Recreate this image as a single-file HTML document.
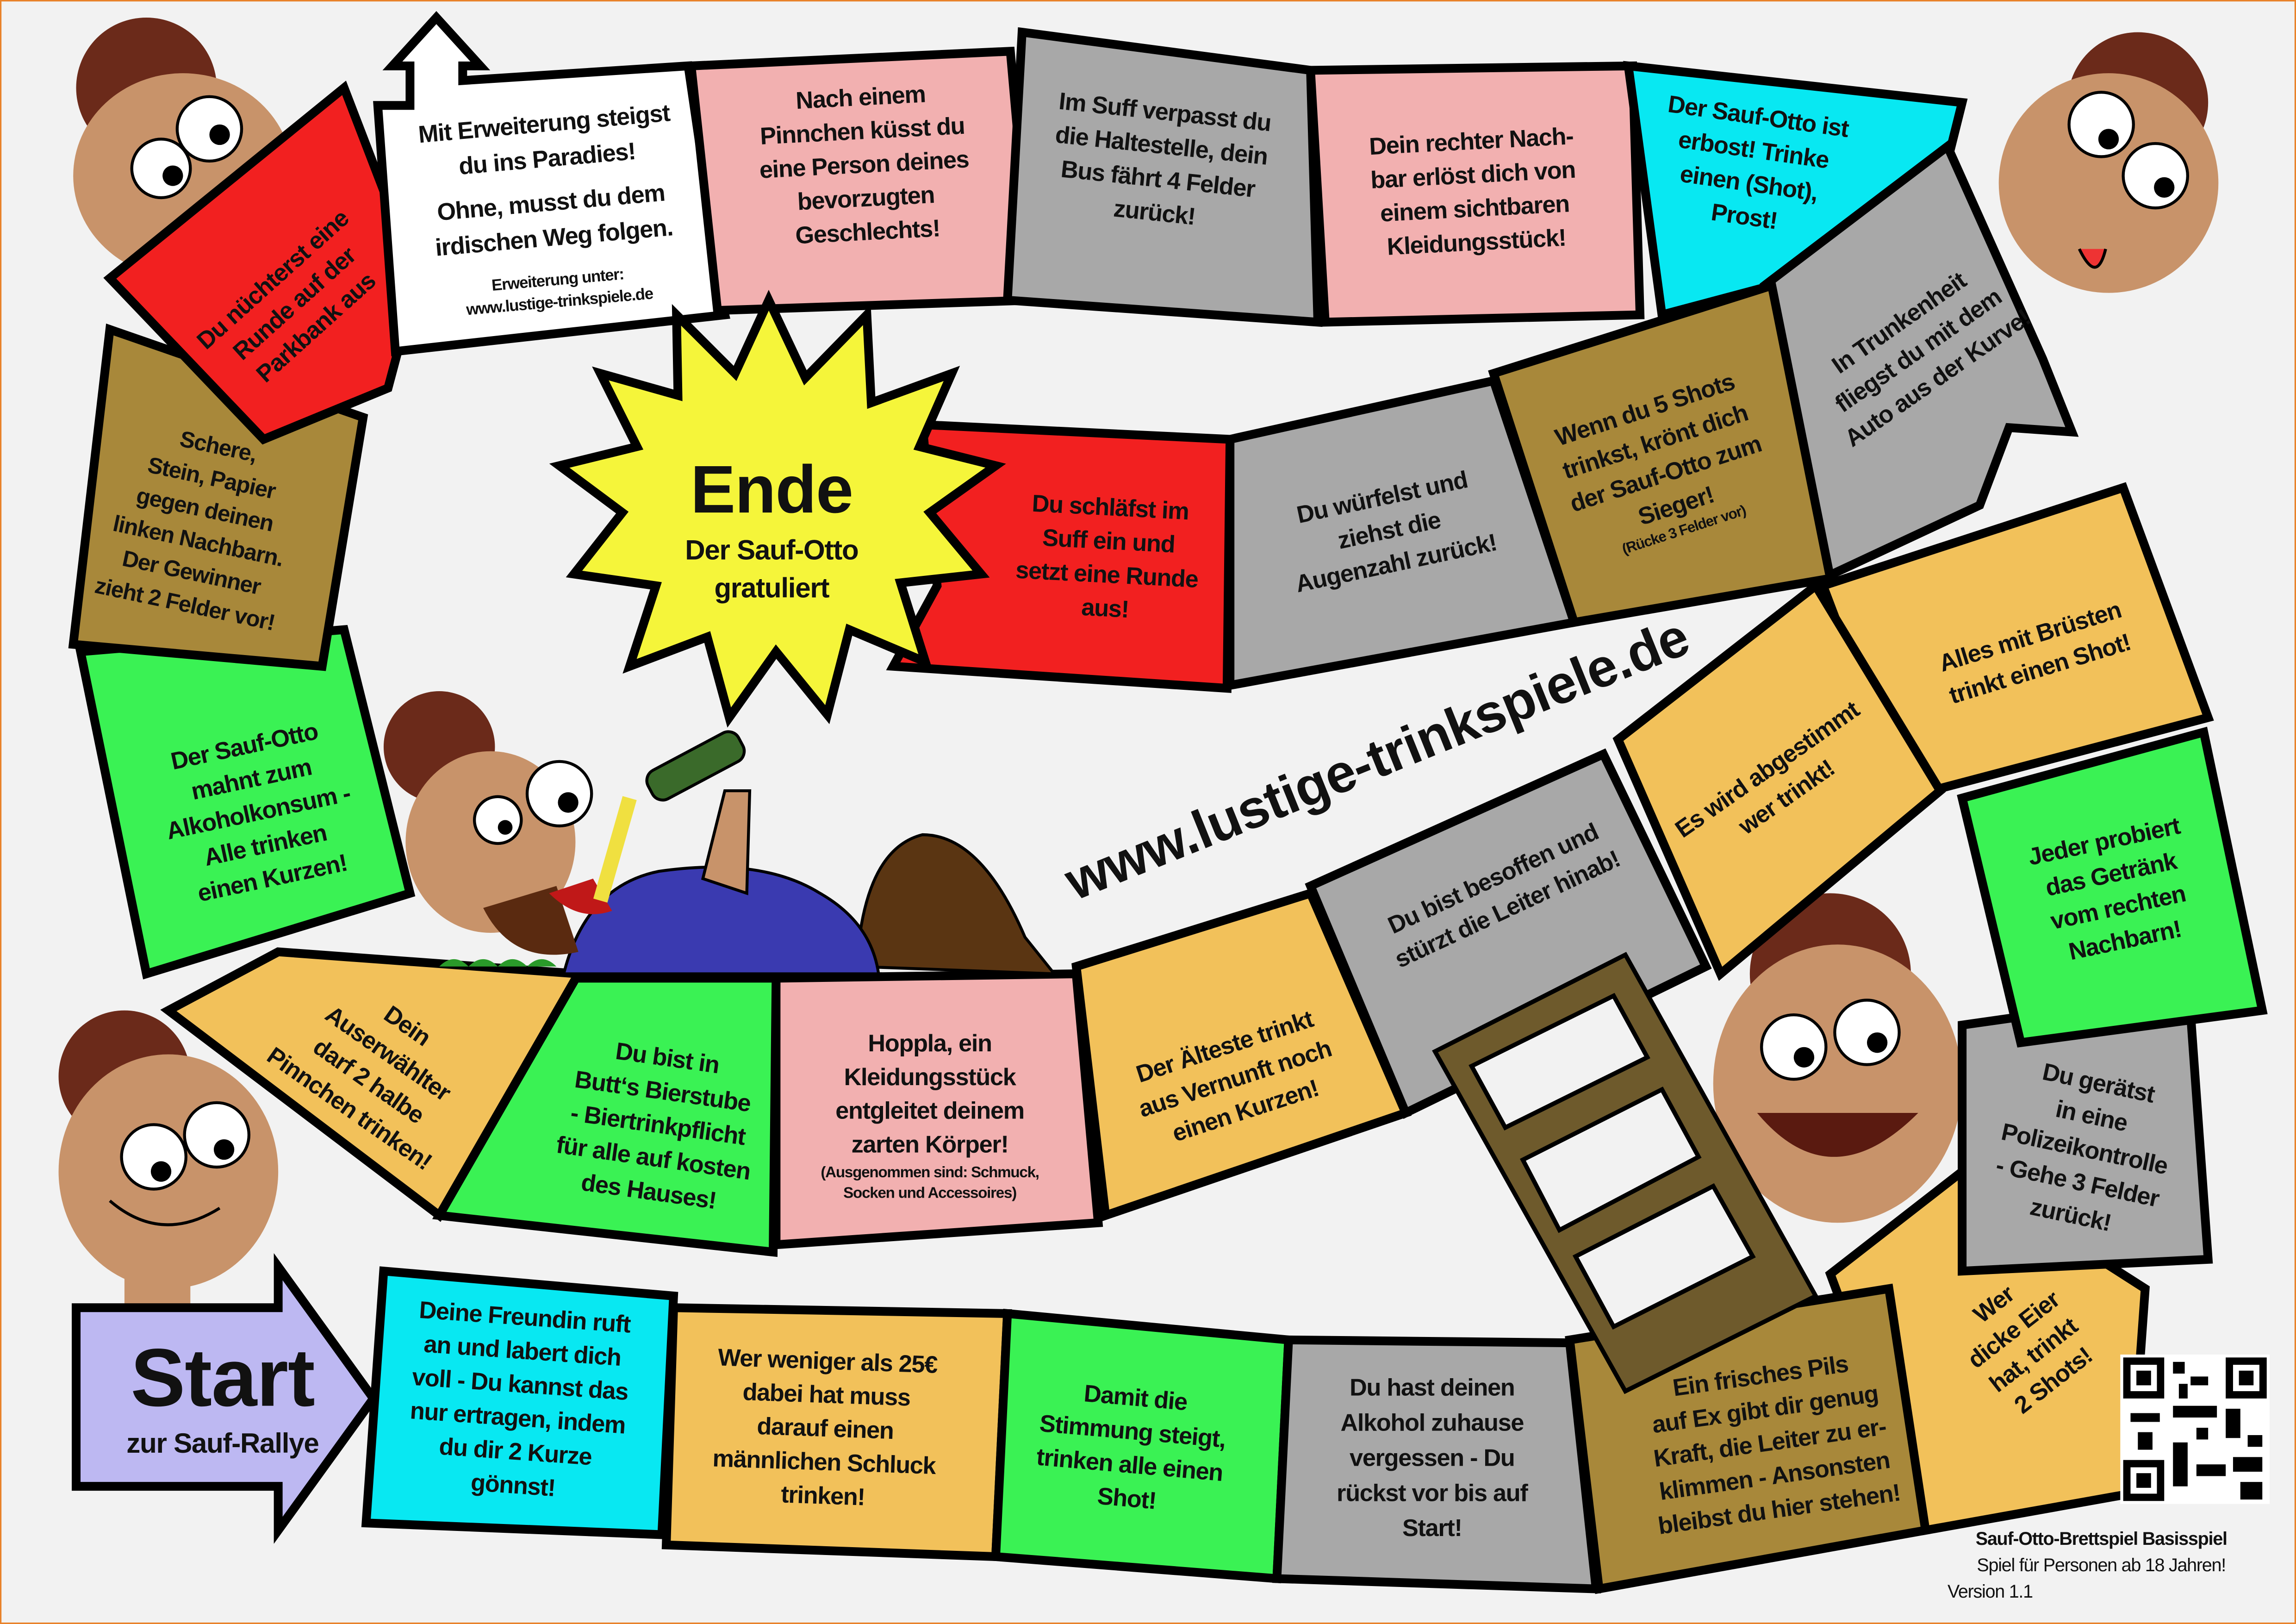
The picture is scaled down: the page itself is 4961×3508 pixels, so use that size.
<!DOCTYPE html>
<html><head><meta charset="utf-8"><style>
html,body{margin:0;padding:0;background:#f2f2f2}
svg{display:block}
text{font-family:"Liberation Sans Narrow","Liberation Sans",sans-serif;font-weight:bold;fill:#111;text-anchor:middle;letter-spacing:-0.4px}
</style></head><body>
<svg width="4961" height="3508" viewBox="0 0 1568 1109" preserveAspectRatio="none" xmlns="http://www.w3.org/2000/svg">
<rect x="0" y="0" width="1568" height="1109" fill="#f2f2f2" stroke="#e8822a" stroke-width="2"/>
<g stroke="#000" stroke-width="6" stroke-linejoin="miter">
<g stroke="none">
<circle cx="100" cy="60" r="48" fill="#6b2a1a"/><ellipse cx="125" cy="120" rx="75" ry="70" fill="#c8936a"/>
<circle cx="1460" cy="70" r="48" fill="#6b2a1a"/><ellipse cx="1440" cy="125" rx="75" ry="75" fill="#c8936a"/>
<circle cx="85" cy="735" r="45" fill="#6b2a1a"/><ellipse cx="115" cy="800" rx="75" ry="80" fill="#c8936a"/><rect x="85" y="860" width="45" height="40" fill="#c8936a"/>
<circle cx="1250" cy="665" r="55" fill="#6b2a1a"/><ellipse cx="1255" cy="740" rx="85" ry="95" fill="#c8936a"/>
</g>
<polygon points="52,893 190,893 190,865 255,955 190,1045 190,1015 52,1015" fill="#bdb8f2"/>
<polygon points="262,868 460,885 452,1048 250,1040" fill="#08e8f2"/>
<polygon points="460,893 688,897 680,1063 455,1055" fill="#f2c15a"/>
<polygon points="688,897 880,915 872,1078 680,1063" fill="#3af254"/>
<polygon points="880,915 1072,917 1090,1085 872,1078" fill="#a8a8a8"/>
<polygon points="1250,870 1340,800 1465,880 1455,1020 1315,1045" fill="#f2c15a"/>
<polygon points="1072,915 1290,880 1315,1045 1092,1085" fill="#a8883a"/>
<polygon points="1340,700 1495,678 1508,860 1340,868" fill="#a8a8a8"/>
<polygon points="1340,545 1505,500 1545,690 1380,712" fill="#3af254"/>
<polygon points="1245,400 1450,333 1508,490 1300,545" fill="#f2c15a"/>
<polygon points="1105,505 1240,400 1325,540 1175,665" fill="#f2c15a"/>
<polygon points="895,605 1095,515 1165,660 960,760" fill="#a8a8a8"/>
<polygon points="735,660 895,610 960,760 755,830" fill="#f2c15a"/>
<polygon points="530,668 735,665 750,835 530,850" fill="#f2b0b0"/>
<polygon points="390,668 530,668 528,855 300,830" fill="#3af254"/>
<polygon points="115,690 190,650 395,665 300,830" fill="#f2c15a"/>
<polygon points="55,445 235,430 280,610 100,665" fill="#3af254"/>
<polygon points="75,225 248,285 220,455 50,440" fill="#a8883a"/>
<polygon points="75,190 235,60 285,190 265,265 180,300" fill="#f22020"/>
<polygon points="258,72 280,72 280,45 268,45 298,12 328,45 316,45 316,55 470,45 488,168 505,168 505,158 525,182 505,205 505,195 490,195 495,215 270,240" fill="#fff"/>
<polygon points="472,45 690,35 705,205 490,212" fill="#f2b0b0"/>
<polygon points="698,22 895,48 900,220 688,205" fill="#a8a8a8"/>
<polygon points="895,48 1115,45 1120,215 905,220" fill="#f2b0b0"/>
<polygon points="1112,45 1340,70 1310,190 1210,195 1135,215" fill="#08e8f2"/>
<polygon points="1205,195 1330,100 1395,245 1415,295 1372,292 1352,345 1245,395" fill="#a8a8a8"/>
<polygon points="1020,255 1210,195 1250,395 1075,425" fill="#a8883a"/>
<polygon points="840,300 1020,260 1075,425 840,468" fill="#a8a8a8"/>
<polygon points="630,290 840,300 838,470 610,455 640,400" fill="#f22020"/>
<polygon points="525,205 550,258 592,215 595,275 650,255 628,305 680,318 635,350 670,392 615,398 632,452 580,430 565,488 530,445 498,490 483,435 430,455 448,400 392,392 425,350 382,318 435,305 410,255 463,270 462,215 502,255" fill="#f5f53a"/>
</g>
<!-- ladder -->
<g stroke="#000" stroke-width="3">
<polygon points="980,718 1110,652 1240,885 1110,950" fill="#6e5a2c"/>
<polygon points="1005,728 1102,680 1125,722 1028,770" fill="#f2f2f2"/>
<polygon points="1040,792 1135,744 1160,790 1065,840" fill="#f2f2f2"/>
<polygon points="1076,858 1170,810 1197,858 1102,906" fill="#f2f2f2"/>
</g>
<g fill="#fff" stroke="#000" stroke-width="2">
<circle cx="110" cy="115" r="20"/><circle cx="143" cy="88" r="22"/>
<circle cx="1435" cy="85" r="22"/><circle cx="1472" cy="120" r="22"/>
<circle cx="105" cy="790" r="22"/><circle cx="148" cy="775" r="22"/>
<circle cx="1225" cy="715" r="22"/><circle cx="1275" cy="705" r="22"/>
</g>
<g fill="#000"><circle cx="118" cy="120" r="7"/><circle cx="150" cy="92" r="7"/><circle cx="1440" cy="95" r="7"/><circle cx="1478" cy="128" r="7"/><circle cx="110" cy="800" r="7"/><circle cx="153" cy="785" r="7"/><circle cx="1232" cy="722" r="7"/><circle cx="1282" cy="712" r="7"/></g>
<path d="M1200,760 Q1250,820 1310,760 Z" fill="#5a1a10"/>
<path d="M1420,170 q12,25 18,0" fill="#e33" stroke="#000" stroke-width="2"/>
<path d="M75,820 Q110,850 150,825" fill="none" stroke="#000" stroke-width="2"/>
<!-- drinking guy -->
<path d="M585,660 Q590,580 630,570 Q670,570 700,640 L720,665 Z" fill="#5a3512" stroke="#000" stroke-width="2"/>
<path d="M385,665 Q400,605 450,595 Q520,585 560,610 Q595,630 600,665 Z" fill="#3a3ab0" stroke="#000" stroke-width="2"/>
<path d="M480,600 L495,540 L512,540 L510,610 Z" fill="#c8936a" stroke="#000" stroke-width="2"/>
<circle cx="300" cy="510" r="38" fill="#6b2a1a"/>
<ellipse cx="335" cy="575" rx="58" ry="62" fill="#c8936a"/>
<path d="M330,620 Q350,660 395,650 L380,605 Z" fill="#5a2a10"/>
<circle cx="382" cy="542" r="22" fill="#fff" stroke="#000" stroke-width="2"/><circle cx="388" cy="548" r="7"/>
<circle cx="340" cy="560" r="16" fill="#fff" stroke="#000" stroke-width="2"/><circle cx="345" cy="565" r="5"/>
<path d="M375,610 Q395,630 418,622 L405,600 Z" fill="#c01818"/>
<rect x="440" y="512" width="70" height="22" rx="8" fill="#3a6a2a" stroke="#000" stroke-width="2" transform="rotate(-28 475 523)"/>
<path d="M430,545 Q420,580 410,615" stroke="#f0e040" stroke-width="10" fill="none"/>
<path d="M300,660 q10,-10 20,0 q10,-10 20,0 q10,-10 20,0 q10,-10 20,0" fill="#2a9a2a"/>
<!-- QR -->
<rect x="1448" y="925" width="102" height="102" fill="#fff"/>
<g fill="#000">
<rect x="1450" y="927" width="28" height="28"/><rect x="1520" y="927" width="28" height="28"/><rect x="1450" y="997" width="28" height="28"/>
<rect x="1484" y="930" width="8" height="8"/><rect x="1496" y="940" width="12" height="6"/><rect x="1484" y="960" width="30" height="8"/><rect x="1520" y="962" width="10" height="20"/><rect x="1455" y="965" width="20" height="6"/><rect x="1484" y="985" width="10" height="30"/><rect x="1500" y="1000" width="20" height="8"/><rect x="1525" y="995" width="20" height="10"/><rect x="1530" y="1012" width="15" height="12"/><rect x="1460" y="978" width="10" height="12"/>
<rect x="1500" y="975" width="8" height="8"/><rect x="1535" y="980" width="10" height="8"/><rect x="1488" y="945" width="6" height="10"/>
</g>
<g fill="#fff"><rect x="1455" y="932" width="18" height="18"/><rect x="1525" y="932" width="18" height="18"/><rect x="1455" y="1002" width="18" height="18"/></g>
<g fill="#000"><rect x="1459" y="936" width="10" height="10"/><rect x="1529" y="936" width="10" height="10"/><rect x="1459" y="1006" width="10" height="10"/></g>

<!-- TEXT -->
<text x="152" y="960" style="font-size:56px">Start</text>
<text x="152" y="992" style="font-size:19px">zur Sauf-Rallye</text>

<g font-size="16.5">
<text transform="translate(358,905) rotate(4)"><tspan x="0" y="0">Deine Freundin ruft</tspan><tspan x="0" dy="23">an und labert dich</tspan><tspan x="0" dy="23">voll - Du kannst das</tspan><tspan x="0" dy="23">nur ertragen, indem</tspan><tspan x="0" dy="23">du dir 2 Kurze</tspan><tspan x="0" dy="23">gönnst!</tspan></text>
<text transform="translate(565,935) rotate(2)"><tspan x="0" y="0">Wer weniger als 25€</tspan><tspan x="0" dy="23">dabei hat muss</tspan><tspan x="0" dy="23">darauf einen</tspan><tspan x="0" dy="23">männlichen Schluck</tspan><tspan x="0" dy="23">trinken!</tspan></text>
<text transform="translate(775,960) rotate(5)"><tspan x="0" y="0">Damit die</tspan><tspan x="0" dy="23">Stimmung steigt,</tspan><tspan x="0" dy="23">trinken alle einen</tspan><tspan x="0" dy="23">Shot!</tspan></text>
<text transform="translate(978,953)"><tspan x="0" y="0">Du hast deinen</tspan><tspan x="0" dy="24">Alkohol zuhause</tspan><tspan x="0" dy="24">vergessen - Du</tspan><tspan x="0" dy="24">rückst vor bis auf</tspan><tspan x="0" dy="24">Start!</tspan></text>
<text transform="translate(1203,945) rotate(-8)"><tspan x="0" y="0">Ein frisches Pils</tspan><tspan x="0" dy="23">auf Ex gibt dir genug</tspan><tspan x="0" dy="23">Kraft, die Leiter zu er-</tspan><tspan x="0" dy="23">klimmen - Ansonsten</tspan><tspan x="0" dy="23">bleibst du hier stehen!</tspan></text>
<text transform="translate(1365,895) rotate(-38)"><tspan x="0" y="0">Wer</tspan><tspan x="0" dy="22">dicke Eier</tspan><tspan x="0" dy="22">hat, trinkt</tspan><tspan x="0" dy="22">2 Shots!</tspan></text>
<text transform="translate(1432,745) rotate(12)"><tspan x="0" y="0">Du gerätst</tspan><tspan x="0" dy="23">in eine</tspan><tspan x="0" dy="23">Polizeikontrolle</tspan><tspan x="0" dy="23">- Gehe 3 Felder</tspan><tspan x="0" dy="23">zurück!</tspan></text>
<text transform="translate(1438,580) rotate(-12)"><tspan x="0" y="0">Jeder probiert</tspan><tspan x="0" dy="23">das Getränk</tspan><tspan x="0" dy="23">vom rechten</tspan><tspan x="0" dy="23">Nachbarn!</tspan></text>
<text transform="translate(1388,440) rotate(-17)"><tspan x="0" y="0">Alles mit Brüsten</tspan><tspan x="0" dy="23">trinkt einen Shot!</tspan></text>
<text transform="translate(1210,530) rotate(-35)"><tspan x="0" y="0">Es wird abgestimmt</tspan><tspan x="0" dy="23">wer trinkt!</tspan></text>
<text transform="translate(1022,605) rotate(-25)"><tspan x="0" y="0">Du bist besoffen und</tspan><tspan x="0" dy="23">stürzt die Leiter hinab!</tspan></text>
<text transform="translate(838,720) rotate(-18)"><tspan x="0" y="0">Der Älteste trinkt</tspan><tspan x="0" dy="23">aus Vernunft noch</tspan><tspan x="0" dy="23">einen Kurzen!</tspan></text>
<text transform="translate(635,718)"><tspan x="0" y="0">Hoppla, ein</tspan><tspan x="0" dy="23">Kleidungsstück</tspan><tspan x="0" dy="23">entgleitet deinem</tspan><tspan x="0" dy="23">zarten Körper!</tspan><tspan x="0" dy="17" font-size="10.5">(Ausgenommen sind: Schmuck,</tspan><tspan x="0" dy="14" font-size="10.5">Socken und Accessoires)</tspan></text>
<text transform="translate(455,728) rotate(8)"><tspan x="0" y="0">Du bist in</tspan><tspan x="0" dy="23">Butt‘s Bierstube</tspan><tspan x="0" dy="23">- Biertrinkpflicht</tspan><tspan x="0" dy="23">für alle auf kosten</tspan><tspan x="0" dy="23">des Hauses!</tspan></text>
<text transform="translate(275,705) rotate(35)"><tspan x="0" y="0">Dein</tspan><tspan x="0" dy="23">Auserwählter</tspan><tspan x="0" dy="23">darf 2 halbe</tspan><tspan x="0" dy="23">Pinnchen trinken!</tspan></text>
<text transform="translate(168,515) rotate(-12)"><tspan x="0" y="0">Der Sauf-Otto</tspan><tspan x="0" dy="23">mahnt zum</tspan><tspan x="0" dy="23">Alkoholkonsum -</tspan><tspan x="0" dy="23">Alle trinken</tspan><tspan x="0" dy="23">einen Kurzen!</tspan></text>
<text font-size="15.5" transform="translate(148,310) rotate(12)"><tspan x="0" y="0">Schere,</tspan><tspan x="0" dy="22">Stein, Papier</tspan><tspan x="0" dy="22">gegen deinen</tspan><tspan x="0" dy="22">linken Nachbarn.</tspan><tspan x="0" dy="22">Der Gewinner</tspan><tspan x="0" dy="22">zieht 2 Felder vor!</tspan></text>
<text transform="translate(190,195) rotate(-42)"><tspan x="0" y="0">Du nüchterst eine</tspan><tspan x="0" dy="22">Runde auf der</tspan><tspan x="0" dy="22">Parkbank aus</tspan></text>
<text transform="translate(372,90) rotate(-5)"><tspan x="0" y="0">Mit Erweiterung steigst</tspan><tspan x="0" dy="24">du ins Paradies!</tspan><tspan x="0" dy="30">Ohne, musst du dem</tspan><tspan x="0" dy="24">irdischen Weg folgen.</tspan><tspan x="0" dy="27" font-size="11">Erweiterung unter:</tspan><tspan x="0" dy="15" font-size="11">www.lustige-trinkspiele.de</tspan></text>
<text transform="translate(588,72) rotate(-3)"><tspan x="0" y="0">Nach einem</tspan><tspan x="0" dy="23">Pinnchen küsst du</tspan><tspan x="0" dy="23">eine Person deines</tspan><tspan x="0" dy="23">bevorzugten</tspan><tspan x="0" dy="23">Geschlechts!</tspan></text>
<text transform="translate(795,82) rotate(6)"><tspan x="0" y="0">Im Suff verpasst du</tspan><tspan x="0" dy="23">die Haltestelle, dein</tspan><tspan x="0" dy="23">Bus fährt 4 Felder</tspan><tspan x="0" dy="23">zurück!</tspan></text>
<text transform="translate(1005,102) rotate(-3)"><tspan x="0" y="0">Dein rechter Nach-</tspan><tspan x="0" dy="23">bar erlöst dich von</tspan><tspan x="0" dy="23">einem sichtbaren</tspan><tspan x="0" dy="23">Kleidungsstück!</tspan></text>
<text transform="translate(1200,85) rotate(8)"><tspan x="0" y="0">Der Sauf-Otto ist</tspan><tspan x="0" dy="23">erbost! Trinke</tspan><tspan x="0" dy="23">einen (Shot),</tspan><tspan x="0" dy="23">Prost!</tspan></text>
<text transform="translate(1300,225) rotate(-35)"><tspan x="0" y="0">In Trunkenheit</tspan><tspan x="0" dy="23">fliegst du mit dem</tspan><tspan x="0" dy="23">Auto aus der Kurve!</tspan></text>
<text transform="translate(1125,285) rotate(-18)"><tspan x="0" y="0">Wenn du 5 Shots</tspan><tspan x="0" dy="23">trinkst, krönt dich</tspan><tspan x="0" dy="23">der Sauf-Otto zum</tspan><tspan x="0" dy="23">Sieger!</tspan><tspan x="0" dy="15" font-size="10">(Rücke 3 Felder vor)</tspan></text>
<text transform="translate(945,345) rotate(-12)"><tspan x="0" y="0">Du würfelst und</tspan><tspan x="0" dy="23">ziehst die</tspan><tspan x="0" dy="23">Augenzahl zurück!</tspan></text>
<text transform="translate(758,352) rotate(3)"><tspan x="0" y="0">Du schläfst im</tspan><tspan x="0" dy="23">Suff ein und</tspan><tspan x="0" dy="23">setzt eine Runde</tspan><tspan x="0" dy="23">aus!</tspan></text>
</g>
<text x="527" y="350" style="font-size:46px">Ende</text>
<text x="527" y="382" style="font-size:19px">Der Sauf-Otto</text>
<text x="527" y="408" style="font-size:19px">gratuliert</text>
<text font-size="37" transform="translate(945,530) rotate(-22)">www.lustige-trinkspiele.de</text>
<text x="1435" y="1055" font-size="12.5">Sauf-Otto-Brettspiel Basisspiel</text>
<text x="1435" y="1073" font-size="12.5" style="font-weight:normal">Spiel für Personen ab 18 Jahren!</text>
<text x="1330" y="1091" font-size="12.5" style="font-weight:normal;text-anchor:start">Version 1.1</text>
</svg>
</body></html>
